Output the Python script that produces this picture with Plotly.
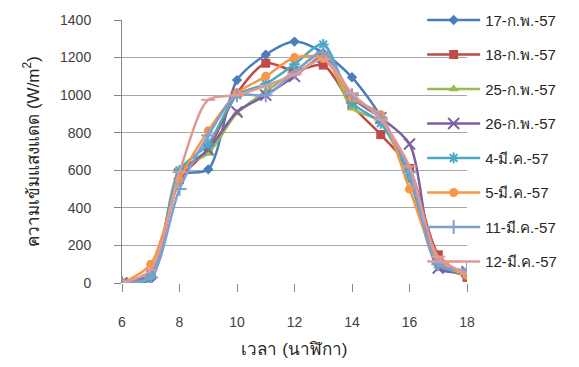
import plotly.graph_objects as go

hours = [6, 7, 8, 9, 10, 11, 12, 13, 14, 15, 16, 17, 18]

names = ["17-ก.พ.-57", "18-ก.พ.-57", "25-ก.พ.-57", "26-ก.พ.-57",
         "4-มี.ค.-57", "5-มี.ค.-57", "11-มี.ค.-57", "12-มี.ค.-57"]

s17feb = [0, 20, 570, 605, 1080, 1215, 1285, 1225, 1095, 885, 560, 100, 40]
s18feb = [0, 50, 550, 715, 1010, 1170, 1130, 1160, 945, 790, 610, 150, 30]
s25feb = [0, 30, 600, 690, 905, 1020, 1125, 1220, 930, 860, 560, 90, 50]
s26feb = [0, 50, 580, 710, 910, 1000, 1100, 1200, 985, 880, 740, 80, 60]
s4mar = [0, 40, 600, 740, 1000, 1060, 1165, 1270, 960, 850, 560, 100, 50]
s5mar = [0, 100, 550, 810, 1010, 1100, 1200, 1195, 985, 895, 500, 120, 40]
s11mar = [0, 30, 500, 785, 1000, 1000, 1120, 1230, 1000, 880, 590, 100, 70]
s12mar = [0, 70, 590, 975, 1000, 1050, 1110, 1190, 1010, 870, 620, 140, 50]

series = [s17feb, s18feb, s25feb, s26feb, s4mar, s5mar, s11mar, s12mar]
colors = ["#4A7EBB", "#BE4B48", "#98B954", "#7D60A0",
          "#46AAC5", "#F79646", "#7F9FD3", "#E09A96"]
symbols = ["diamond", "square", "triangle-up", "x-thin-open",
           "asterisk-open", "circle", "cross-thin-open", "line-ew-open"]
sizes = [8, 9, 9, 11, 9, 9, 10, 10]

fig = go.Figure()
for i, (nm, ys) in enumerate(zip(names, series)):
    open_sym = symbols[i].endswith("open")
    fig.add_trace(go.Scatter(
        x=hours, y=ys, name=nm, mode="lines+markers",
        legendgroup=str(i),
        line=dict(color=colors[i], width=2.5, shape="spline", smoothing=0.8),
        marker=dict(symbol=symbols[i], size=sizes[i], color=colors[i],
                    line=dict(color=colors[i], width=2 if open_sym else 0)),
    ))

font = "Liberation Sans, Arial, sans-serif"
fig.update_layout(
    width=579, height=367,
    margin=dict(l=122, r=112, t=20, b=84, autoexpand=False),
    paper_bgcolor="white", plot_bgcolor="white",
    font=dict(family=font, size=14, color="#404040"),
    showlegend=True,
    legend=dict(x=0.870, y=1.062, xanchor="left", yanchor="top",
                bgcolor="rgba(0,0,0,0)", font=dict(size=15, color="#262626"),
                tracegroupgap=12, itemwidth=53, maxheight=1),
    xaxis=dict(range=[6, 18], tickvals=[6, 8, 10, 12, 14, 16, 18],
               showgrid=False, zeroline=False, showline=False,
               ticks="outside", ticklen=8, tickcolor="#868686",
               ticklabelstandoff=18,
               title=dict(text="เวลา (นาฬิกา)", font=dict(size=17, color="#262626"),
                          standoff=14)),
    yaxis=dict(range=[0, 1400], dtick=200, showgrid=True, gridcolor="#A6A6A6",
               gridwidth=1, zeroline=False, showline=True, linecolor="#868686",
               ticks="outside", ticklen=7, tickcolor="#868686",
               ticklabelstandoff=20,
               title=dict(text="ความเข้มแสงแดด (W/m<sup>2</sup>)",
                          font=dict(size=17, color="#262626"), standoff=16)),
)

fig.write_html("out.html")
